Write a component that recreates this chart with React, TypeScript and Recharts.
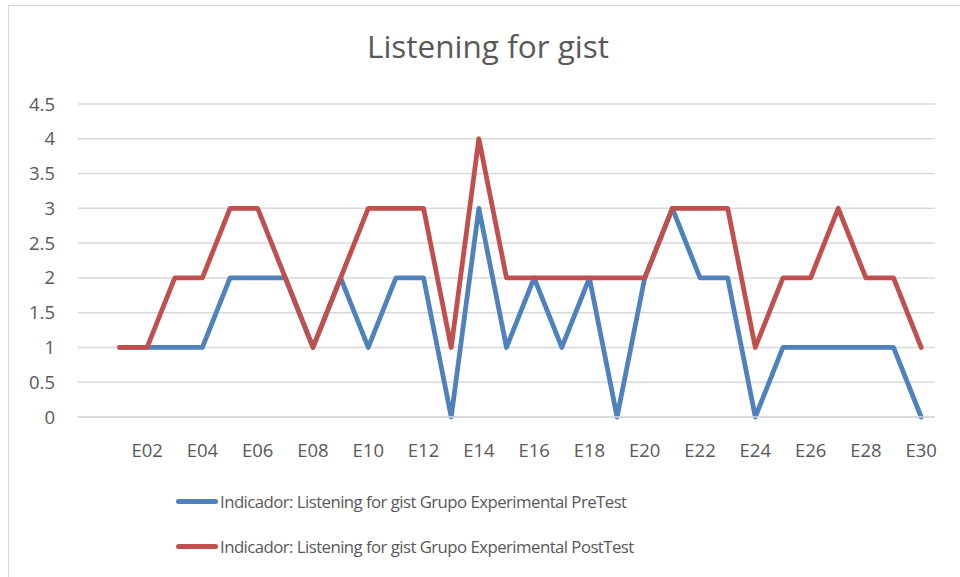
import React from "react";
import { LineChart, Line, XAxis, YAxis, CartesianGrid } from "recharts";

const categories = ["", "E01", "E02", "E03", "E04", "E05", "E06", "E07", "E08", "E09", "E10", "E11", "E12", "E13", "E14", "E15", "E16", "E17", "E18", "E19", "E20", "E21", "E22", "E23", "E24", "E25", "E26", "E27", "E28", "E29", "E30"];
const preTest = [null, 1, 1, 1, 1, 2, 2, 2, 1, 2, 1, 2, 2, 0, 3, 1, 2, 1, 2, 0, 2, 3, 2, 2, 0, 1, 1, 1, 1, 1, 0];
const postTest = [null, 1, 1, 2, 2, 3, 3, 2, 1, 2, 3, 3, 3, 1, 4, 2, 2, 2, 2, 2, 2, 3, 3, 3, 1, 2, 2, 3, 2, 2, 1];
const yTicks = [0, 0.5, 1, 1.5, 2, 2.5, 3, 3.5, 4, 4.5];
const preName = "Indicador: Listening for gist Grupo Experimental PreTest";
const postName = "Indicador: Listening for gist Grupo Experimental PostTest";
const title = "Listening for gist";

const BLUE = "#4F81BD";
const RED = "#C0504D";

const data = categories.map((c, i) => ({ name: c, pre: preTest[i], post: postTest[i] }));

const FONT = "'Open Sans', sans-serif";
const TEXT = "#595959";

const legendItems = [
  { name: preName, color: BLUE },
  { name: postName, color: RED },
];

export default function App() {
  return (
    <div style={{ position: "absolute", left: 0, top: 0, width: 960, height: 577, background: "#fff", overflow: "hidden" }}>
      <div style={{ position: "absolute", left: 8, top: 5, width: 952, height: 572, borderTop: "1px solid #d9d9d9", borderLeft: "1px solid #d9d9d9" }} />
      <div style={{ position: "absolute", left: 0, top: 24, width: 976, textAlign: "center", fontFamily: FONT, fontSize: 31.5, color: TEXT }}>{title}</div>
      <div style={{ position: "absolute", left: 0, top: 0 }}>
        <LineChart width={960} height={577} data={data} margin={{ top: 104, right: 25, left: 0, bottom: 0 }}>
          <CartesianGrid vertical={false} stroke="#d9d9d9" strokeWidth={1.5} />
          <XAxis dataKey="name" scale="band" interval={1} height={160} tickLine={false} axisLine={{ stroke: "#d9d9d9", strokeWidth: 1.5 }} tickSize={0} tickMargin={23} tick={{ fill: TEXT, fontFamily: FONT, fontSize: 18.5, dy: 4 }} />
          <YAxis domain={[0, 4.5]} ticks={yTicks} width={78} tickLine={false} axisLine={false} tickSize={0} tickMargin={23} tick={{ fill: TEXT, fontFamily: FONT, fontSize: 18.5 }} />
          <Line dataKey="pre" name={preName} stroke={BLUE} strokeWidth={4.8} dot={false} isAnimationActive={false} strokeLinejoin="round" strokeLinecap="round" />
          <Line dataKey="post" name={postName} stroke={RED} strokeWidth={4.8} dot={false} isAnimationActive={false} strokeLinejoin="round" strokeLinecap="round" />
        </LineChart>
      </div>
      <div style={{ position: "absolute", left: 176, top: 479 }}>
        {legendItems.map((p, i) => (
          <div key={i} style={{ display: "flex", alignItems: "center", height: 45 }}>
            <div style={{ width: 42, height: 5, borderRadius: 3, background: p.color, marginRight: 2 }} />
            <span style={{ fontFamily: FONT, fontSize: 16.8, letterSpacing: -0.55, color: TEXT, whiteSpace: "nowrap" }}>{p.name}</span>
          </div>
        ))}
      </div>
    </div>
  );
}
